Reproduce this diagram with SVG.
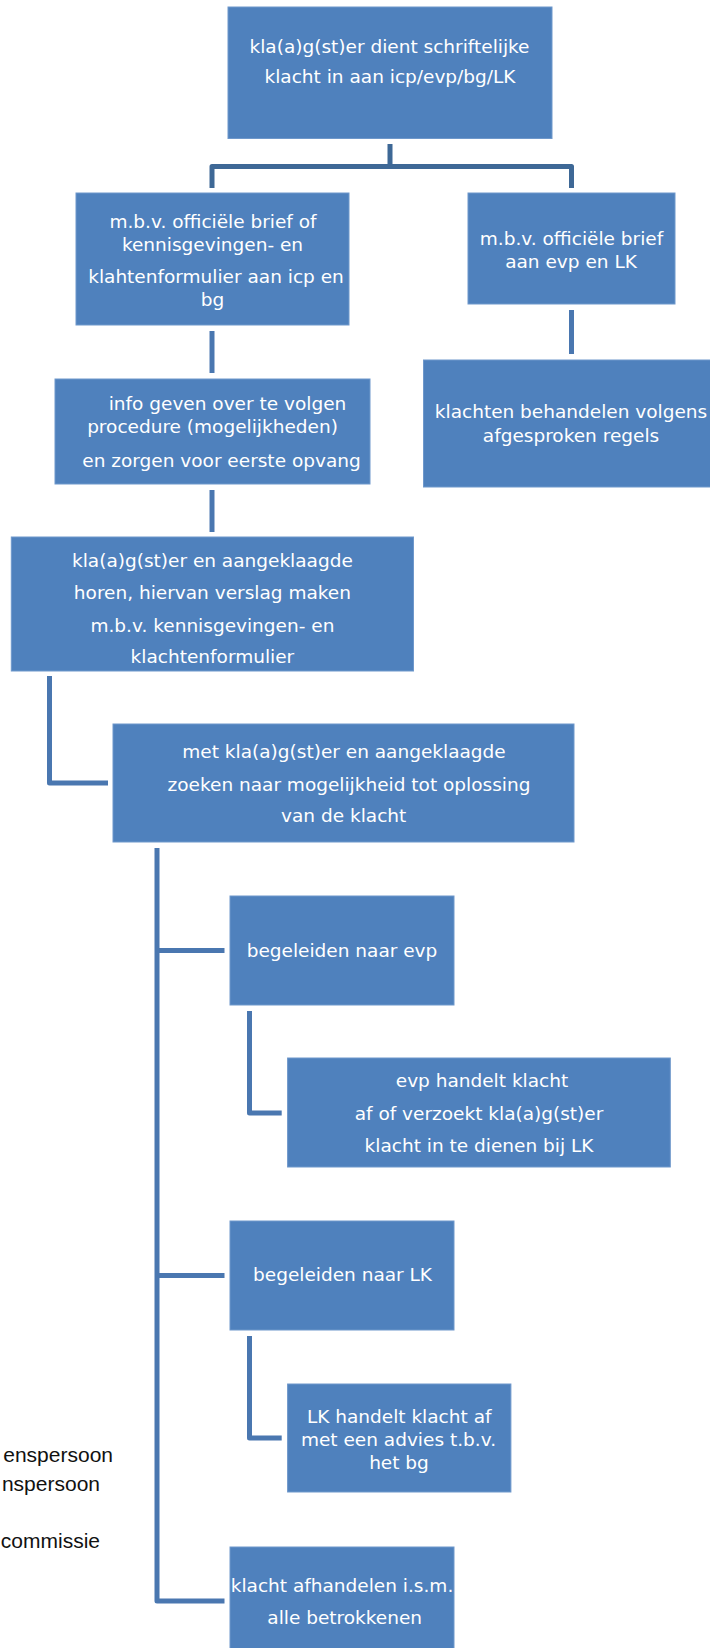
<svg xmlns="http://www.w3.org/2000/svg" width="710" height="1648" viewBox="0 0 710 1648">
<style>
.box{fill:#4f81bd;stroke:#6f98cb;stroke-width:1}
.t{font-family:"DejaVu Sans","Verdana",sans-serif;font-size:18.5px;fill:#ffffff;text-anchor:middle}
.lg{font-family:"Liberation Sans","Arial",sans-serif;font-size:21px;fill:#111111;text-anchor:end}
.c{fill:none;stroke:#4a77b0;stroke-width:5;stroke-linejoin:round}
.c0{fill:none;stroke:#3e6896;stroke-width:5;stroke-linejoin:round}
</style>
<rect width="710" height="1648" fill="#ffffff"/>
<g id="connectors">
<path class="c0" d="M390,144 V166.5 M212,188 V166.5 H571.5 V188"/>
<path class="c" d="M212,331 V373"/>
<path class="c" d="M571.5,310 V354"/>
<path class="c" d="M212,490 V532"/>
<path class="c" d="M49.5,676 V783 H108"/>
<path class="c" d="M157,848 V1601 H224.5 M157,950.5 H224.5 M157,1275.5 H224.5"/>
<path class="c" d="M249.5,1011 V1113 H281.7"/>
<path class="c" d="M249.5,1336 V1438 H281.7"/>
</g>
<g id="n1">
<rect class="box" x="228" y="7" width="324" height="131.5"/>
<text class="t" x="389.5" y="53">kla(a)g(st)er dient schriftelijke</text>
<text class="t" x="390" y="83">klacht in aan icp/evp/bg/LK</text>
</g>
<g id="n2">
<rect class="box" x="76" y="193" width="273" height="132"/>
<text class="t" x="213" y="228">m.b.v. officiële brief of</text>
<text class="t" x="212.5" y="251">kennisgevingen- en</text>
<text class="t" x="216" y="283">klahtenformulier aan icp en</text>
<text class="t" x="212.5" y="306">bg</text>
</g>
<g id="n3">
<rect class="box" x="468" y="193" width="207" height="111"/>
<text class="t" x="571.5" y="245">m.b.v. officiële brief</text>
<text class="t" x="571" y="268">aan evp en LK</text>
</g>
<g id="n4">
<rect class="box" x="423.5" y="360" width="300" height="127"/>
<text class="t" x="571" y="418">klachten behandelen volgens</text>
<text class="t" x="571" y="442">afgesproken regels</text>
</g>
<g id="n5">
<rect class="box" x="55" y="379" width="315" height="105"/>
<text class="t" x="227.5" y="410">info geven over te volgen</text>
<text class="t" x="212.5" y="433">procedure (mogelijkheden)</text>
<text class="t" x="221.5" y="467">en zorgen voor eerste opvang</text>
</g>
<g id="n6">
<rect class="box" x="11.3" y="537" width="402.2" height="134"/>
<text class="t" x="212.4" y="567">kla(a)g(st)er en aangeklaagde</text>
<text class="t" x="212.4" y="599">horen, hiervan verslag maken</text>
<text class="t" x="212.4" y="632">m.b.v. kennisgevingen- en</text>
<text class="t" x="212.4" y="663">klachtenformulier</text>
</g>
<g id="n7">
<rect class="box" x="113" y="724" width="461" height="118"/>
<text class="t" x="344" y="758">met kla(a)g(st)er en aangeklaagde</text>
<text class="t" x="349" y="791">zoeken naar mogelijkheid tot oplossing</text>
<text class="t" x="343.7" y="822">van de klacht</text>
</g>
<g id="n8">
<rect class="box" x="230" y="896" width="224" height="109"/>
<text class="t" x="342" y="957">begeleiden naar evp</text>
</g>
<g id="n9">
<rect class="box" x="287.6" y="1058" width="382.7" height="109"/>
<text class="t" x="482" y="1087">evp handelt klacht</text>
<text class="t" x="479" y="1120">af of verzoekt kla(a)g(st)er</text>
<text class="t" x="479" y="1152">klacht in te dienen bij LK</text>
</g>
<g id="n10">
<rect class="box" x="230" y="1221" width="224" height="109"/>
<text class="t" x="342.5" y="1281">begeleiden naar LK</text>
</g>
<g id="n11">
<rect class="box" x="287.6" y="1384" width="223.3" height="108"/>
<text class="t" x="399.2" y="1423">LK handelt klacht af</text>
<text class="t" x="398.5" y="1446">met een advies t.b.v.</text>
<text class="t" x="399" y="1469">het bg</text>
</g>
<g id="n12">
<rect class="box" x="230" y="1547" width="224" height="110"/>
<text class="t" x="342" y="1592">klacht afhandelen i.s.m.</text>
<text class="t" x="344.7" y="1624">alle betrokkenen</text>
</g>
<g id="legend">
<text class="lg" x="113" y="1462">enspersoon</text>
<text class="lg" x="100" y="1491">nspersoon</text>
<text class="lg" x="100" y="1548">commissie</text>
</g>
</svg>
